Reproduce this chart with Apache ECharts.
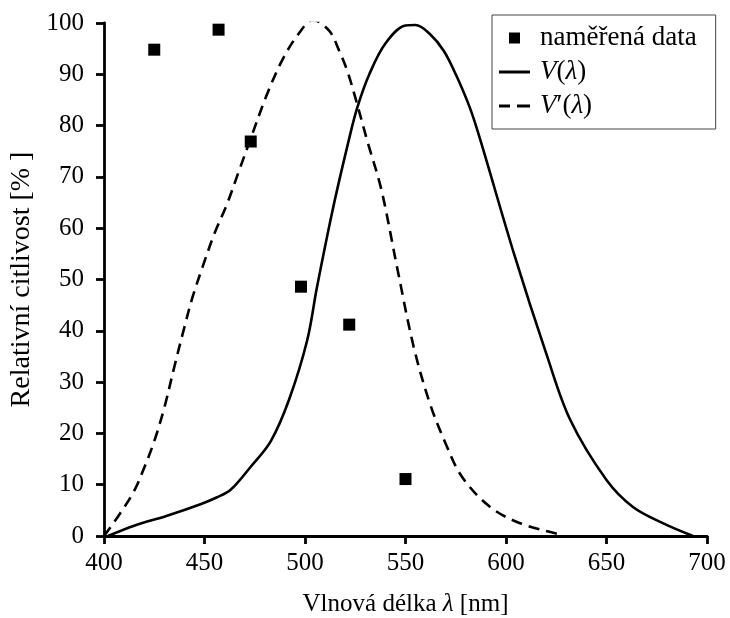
<!DOCTYPE html>
<html>
<head>
<meta charset="utf-8">
<script src="https://cdn.jsdelivr.net/npm/echarts@6/dist/echarts.min.js"></script>
<style>
html,body{margin:0;padding:0;background:#fff;}
#chart{width:730px;height:618px;}
</style>
</head>
<body>
<div id="chart"></div>
<script>
// Measured data (wavelength nm, relative sensitivity %)
var measuredX = [425, 457, 473, 498, 522, 550];
var measuredY = [94.8, 98.7, 76.9, 48.6, 41.2, 11.1];

// Photopic curve V(λ)
var photopicX = [402, 415, 431, 448, 456, 463, 473, 483, 492, 501, 506, 514, 522, 526, 532, 540, 550, 555, 562, 569, 575, 582, 587, 604, 620, 632, 650, 663, 678, 693];
var photopicY = [0, 2, 3.9, 6.2, 7.5, 9, 13.5, 18.5, 26.5, 38, 48.6, 64, 77.5, 83.5, 90, 96, 99.5, 99.6, 97.9, 94.6, 90, 83.5, 77.5, 55, 35.6, 22.6, 10.9, 5.7, 2.5, 0];

// Scotopic curve V'(λ)
var scotopicX = [400, 408, 415, 420, 425, 430, 435, 440, 444, 449, 455, 461, 467, 473, 481, 489, 497, 504, 512, 517, 521, 525, 531, 538, 546, 554, 562, 570, 578, 592, 607, 627];
var scotopicY = [0, 4.4, 8.8, 13.3, 18.5, 25, 33, 40.7, 46.5, 52.4, 59, 64.5, 71, 77.5, 86, 93, 98, 100.6, 98.5, 94.6, 90.7, 85.5, 77, 67.5, 52, 37, 26, 18, 11.6, 5.7, 2.5, 0.3];

var xTicks = [400, 450, 500, 550, 600, 650, 700];
var yTicks = [0, 10, 20, 30, 40, 50, 60, 70, 80, 90, 100];

function pairs(xs, ys) { return xs.map(function (x, i) { return [x, ys[i]]; }); }

var FONT = 'Liberation Serif';
function richFor(size) { return { i: { fontStyle: 'italic', fontFamily: FONT, fontSize: size, color: '#000' } }; }

var chart = echarts.init(document.getElementById('chart'));
chart.setOption({
  backgroundColor: '#fff',
  animation: false,
  textStyle: { fontFamily: FONT, color: '#000' },
  grid: { left: 104, right: 23, top: 23, bottom: 82, containLabel: false, outerBoundsMode: 'none' },
  legend: {
    orient: 'vertical',
    left: 492,
    top: 15,
    padding: [9, 19, 9, 7],
    itemGap: 6,
    itemWidth: 36,
    itemHeight: 14,
    borderColor: '#444',
    borderWidth: 1,
    backgroundColor: '#fff',
    textStyle: { fontFamily: FONT, fontSize: 27, color: '#000', lineHeight: 28, rich: richFor(27) },
    formatter: function (name) {
      if (name === 'V') return '{i|V}({i|λ})';
      if (name === 'Vs') return '{i|V}′({i|λ})';
      return name;
    },
    data: [
      { name: 'naměřená data', icon: 'path://M0,0M36,14M10,1.5h11v11h-11z' },
      { name: 'V', icon: 'path://M0,0M36,14M0,5.5h31v3h-31z' },
      { name: 'Vs', icon: 'path://M0,0M36,14M0,5.5h11v3h-11zM18,5.5h13v3h-13z' }
    ]
  },
  xAxis: {
    type: 'value',
    min: 400, max: 700, interval: 50,
    name: 'Vlnová délka {i|λ} [nm]',
    nameLocation: 'middle',
    nameGap: 56,
    nameTextStyle: { fontFamily: FONT, fontSize: 25, color: '#000', verticalAlign: 'top', rich: richFor(25) },
    axisLine: { show: true, onZero: false, lineStyle: { color: '#000', width: 2.8 } },
    axisTick: { show: true, inside: false, length: 8, lineStyle: { color: '#000', width: 2.8 } },
    axisLabel: { margin: 15, fontFamily: FONT, fontSize: 25, color: '#000',
      formatter: function (v) { return xTicks.indexOf(v) >= 0 ? String(v) : ''; } },
    splitLine: { show: false }
  },
  yAxis: {
    type: 'value',
    min: 0, max: 100, interval: 10,
    name: 'Relativní citlivost [% ]',
    nameLocation: 'middle',
    nameGap: 57,
    nameTextStyle: { fontFamily: FONT, fontSize: 28, color: '#000' },
    axisLine: { show: true, onZero: false, lineStyle: { color: '#000', width: 2.8 } },
    axisTick: { show: true, inside: false, length: 8, lineStyle: { color: '#000', width: 2.8 } },
    axisLabel: { margin: 20, fontFamily: FONT, fontSize: 25, color: '#000',
      formatter: function (v) { return yTicks.indexOf(v) >= 0 ? String(v) : ''; } },
    splitLine: { show: false }
  },
  series: [
    {
      name: 'naměřená data',
      type: 'scatter',
      symbol: 'rect',
      symbolSize: 12,
      itemStyle: { color: '#000', opacity: 1 },
      data: pairs(measuredX, measuredY),
      z: 5
    },
    {
      name: 'V',
      type: 'line',
      smooth: 0.35,
      showSymbol: false,
      symbol: 'none',
      lineStyle: { color: '#000', width: 2.6 },
      itemStyle: { color: '#000' },
      data: pairs(photopicX, photopicY),
      z: 3
    },
    {
      name: 'Vs',
      type: 'line',
      smooth: 0.35,
      showSymbol: false,
      symbol: 'none',
      lineStyle: { color: '#000', width: 2.6, type: [11, 7] },
      itemStyle: { color: '#000' },
      data: pairs(scotopicX, scotopicY),
      z: 3
    }
  ]
});
</script>
</body>
</html>
